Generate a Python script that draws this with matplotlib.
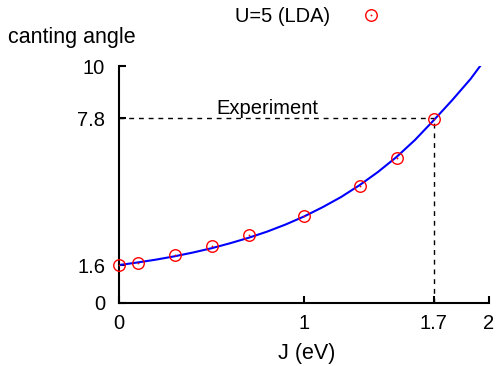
import matplotlib
matplotlib.use("Agg")
import matplotlib.pyplot as plt
from matplotlib.legend_handler import HandlerTuple

plt.rcParams["font.family"] = ["Liberation Sans", "DejaVu Sans"]

# LDA points (U=5)
j_lda = [0.0, 0.1, 0.3, 0.5, 0.7, 1.0, 1.3, 1.5, 1.7]
angle_lda = [1.60, 1.69, 2.03, 2.40, 2.85, 3.69, 4.94, 6.12, 7.76]

# fitted curve
j_fit = [0.0, 0.1, 0.2, 0.3, 0.4, 0.5, 0.6, 0.7, 0.8, 0.9, 1.0,
         1.1, 1.2, 1.3, 1.4, 1.5, 1.6, 1.7, 1.8, 1.9, 2.0]
angle_fit = [1.60, 1.71, 1.83, 1.97, 2.13, 2.31, 2.52, 2.75, 3.01, 3.31, 3.65,
             4.04, 4.47, 4.97, 5.53, 6.16, 6.88, 7.70, 8.55, 9.45, 10.5]

j_exp = 1.7
angle_exp = 7.8

x_ticks = [0, 1, 1.7, 2]
x_ticklabels = ["0", "1", "1.7", "2"]
y_ticks = [0, 1.6, 7.8, 10]
y_ticklabels = ["0", "1.6", "7.8", "10"]

fig = plt.figure(figsize=(4.97, 3.66), dpi=100)
ax = fig.add_axes([119 / 497, 1 - 303 / 366, 370 / 497, 237 / 366])

ax.plot(j_fit, angle_fit, color="blue", lw=1.5, zorder=2)
ring, = ax.plot(j_lda, angle_lda, ls="none", marker="o", ms=8.3, mfc="none",
                mec="red", mew=1.0, clip_on=False, zorder=3)
dot, = ax.plot(j_lda, angle_lda, ls="none", marker="o", ms=1.3, mfc="red",
               mec="red", mew=0, clip_on=False, zorder=3)

ax.plot([0, j_exp], [angle_exp, angle_exp], color="black", lw=1,
        dashes=(3.5, 3.5), zorder=1)
ax.plot([j_exp, j_exp], [0, angle_exp], color="black", lw=1,
        dashes=(3.5, 3.5), zorder=1)
ax.text(0.524, 8.2, "Experiment", fontsize=14.5, va="center", ha="left")

ax.set_xlim(0, 2)
ax.set_ylim(0, 10)
ax.set_xticks(x_ticks)
ax.set_xticklabels(x_ticklabels)
ax.set_yticks(y_ticks)
ax.set_yticklabels(y_ticklabels)
ax.tick_params(direction="in", length=5, width=1.5, labelsize=14.5)
ax.tick_params(axis="x", pad=8)
ax.tick_params(axis="y", pad=10)
for s in ["top", "right"]:
    ax.spines[s].set_visible(False)
for s in ["left", "bottom"]:
    ax.spines[s].set_linewidth(1.5)

fig.text(8 / 497, 1 - 38 / 366, "canting angle", fontsize=15.5, va="center", ha="left")
fig.text(307 / 497, 1 - 354 / 366, "J (eV)", fontsize=15.5, va="center", ha="center")

ax.legend([(ring, dot)], ["U=5 (LDA)"], handler_map={tuple: HandlerTuple(ndivide=1)},
          markerfirst=False, frameon=False, fontsize=14.5, handlelength=1.0,
          handletextpad=1.54, loc="center", bbox_to_anchor=(308 / 497, 1 - 17 / 366),
          bbox_transform=fig.transFigure)

fig.savefig("out.png", dpi=100)
